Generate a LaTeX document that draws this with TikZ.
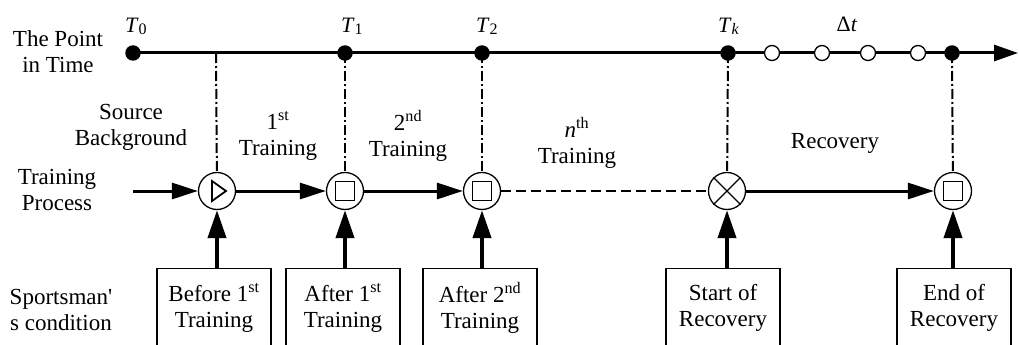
\documentclass[tikz,border=0pt]{standalone}
\usepackage{fontspec}
\setmainfont{Liberation Serif}
\usetikzlibrary{arrows.meta,backgrounds}
% extra depth under the last line of a box text
\newcommand\boxpad{\rule[-8pt]{0pt}{8pt}}
\newcommand\straightquote{{\addfontfeature{Ligatures=TeXOff}'}}
\begin{document}
\begin{tikzpicture}[x=1pt,y=-1pt,
  lbl/.style={font=\fontsize{23}{26}\selectfont, align=center, inner sep=0pt},
  tlab/.style={font=\fontsize{22}{26}\selectfont, inner sep=0pt, anchor=base west},
  fdot/.style={circle, fill=black, minimum size=15.5pt, inner sep=0pt},
  odot/.style={circle, draw=black, fill=white, line width=1.3pt, minimum size=15pt, inner sep=0pt},
  proc/.style={circle, draw=black, fill=white, line width=1.3pt, minimum size=37pt, inner sep=0pt},
  condbox/.style={draw=black, line width=1.3pt, minimum width=114pt, minimum height=82pt,
                  anchor=north, inner sep=0pt, font=\fontsize{23}{26}\selectfont, align=center},
  axisline/.style={line width=3pt, -{Triangle[length=24pt,width=16pt]}},
  flow/.style={line width=3pt, -{Triangle[length=26pt,width=16pt]}},
  feed/.style={line width=4pt, -{Triangle[length=28pt,width=18pt]}},
  guide/.style={line width=2pt, dash pattern=on 10pt off 3pt on 2pt off 3pt},
  gapline/.style={line width=2pt, dash pattern=on 10pt off 5pt},
  glyph/.style={line width=1.8pt}
]
\useasboundingbox (0,0) rectangle (1019,345);
\clip (0,0) rectangle (1019,345);

% ---- time axis marks ----
\node[fdot] (d0) at (133,53) {};
\node[fdot] (d1) at (345,53) {};
\node[fdot] (d2) at (482,53) {};
\node[fdot] (dk) at (728,53) {};
\node[odot] (o1) at (772,53) {};
\node[odot] (o2) at (822,53) {};
\node[odot] (o3) at (868,53) {};
\node[odot] (o4) at (918,53) {};
\node[fdot] (d5) at (952,53) {};
\coordinate (tend) at (1018,53);
\coordinate (v0) at (216,53);

% ---- labels of the time points ----
\node[tlab] (l0) at (125,33) {\textit{T}\raisebox{-2pt}{\fontsize{16}{16}\selectfont 0}};
\node[tlab] (l1) at (341,33) {\textit{T}\raisebox{-2pt}{\fontsize{16}{16}\selectfont 1}};
\node[tlab] (l2) at (476,33) {\textit{T}\raisebox{-2pt}{\fontsize{16}{16}\selectfont 2}};
\node[tlab] (lk) at (718,33) {\textit{T}\raisebox{-2pt}{\fontsize{16}{16}\selectfont\itshape k}};
\node[tlab, anchor=base] (ldt) at (847,32) {Δ\textit{t}};

% ---- process stages ----
\node[proc] (c1) at (217,191) {};
\node[proc] (c2) at (345,191) {};
\node[proc] (c3) at (482,191) {};
\node[proc] (c4) at (727,191) {};
\node[proc] (c5) at (953,191) {};
\coordinate (pin) at (133,191);

% symbols inside the stages
\draw[glyph] ([shift={(-5,-10)}]c1.center) -- ([shift={(9,0)}]c1.center)
             -- ([shift={(-5,10)}]c1.center) -- cycle;
\foreach \c in {c2,c3,c5}
  \draw[glyph] ([shift={(-9.5,-9.5)}]\c.center) rectangle ([shift={(9.5,9.5)}]\c.center);
\draw[line width=1.3pt] (c4.north east) -- (c4.south west) (c4.north west) -- (c4.south east);

% ---- lines under the marks ----
\begin{scope}[on background layer]
  \draw[axisline] (d0.center) -- (tend);
  \draw[guide] (v0) -- (c1);
  \draw[guide] (d1.center) -- (c2);
  \draw[guide] (d2.center) -- (c3);
  \draw[guide] (dk.center) -- (c4);
  \draw[guide] (d5.center) -- (c5);
\end{scope}

% ---- flow of the training process ----
\draw[flow] (pin) -- (c1);
\draw[flow] (c1) -- (c2);
\draw[flow] (c2) -- (c3);
\draw[gapline] (c3) -- (c4);
\draw[flow] (c4) -- (c5);

% ---- condition boxes ----
\node[condbox] (b1) at (214,268) {Before 1\textsuperscript{st}\\Training\boxpad};
\node[condbox] (b2) at (343,268) {After 1\textsuperscript{st}\\Training\boxpad};
\node[condbox] (b3) at (480,268) {After 2\textsuperscript{nd}\\Training\boxpad};
\node[condbox] (b4) at (723,268) {Start of\\Recovery\boxpad};
\node[condbox] (b5) at (954,268) {End of\\Recovery\boxpad};

\draw[feed] (b1.north -| c1) -- (c1);
\draw[feed] (b2.north -| c2) -- (c2);
\draw[feed] (b3.north -| c3) -- (c3);
\draw[feed] (b4.north -| c4) -- (c4);
\draw[feed] (b5.north -| c5) -- (c5);

% ---- text labels ----
\node[lbl] (ptime) at (58,52) {The Point\\in Time};
\node[lbl] (src) at (131,127) {Source\\Background};
\node[lbl] (tr1) at (278,136) {1\textsuperscript{st}\\Training};
\node[lbl] (tr2) at (408,136) {2\textsuperscript{nd}\\Training};
\node[lbl] (trn) at (577,143) {\textit{n}\textsuperscript{th}\\Training};
\node[lbl, anchor=base] (rec) at (835,148) {Recovery};
\node[lbl] (tproc) at (57,190) {Training\\Process};
\node[lbl] (cond) at (61,310) {Sportsman\straightquote\\s condition};
\end{tikzpicture}
\end{document}
